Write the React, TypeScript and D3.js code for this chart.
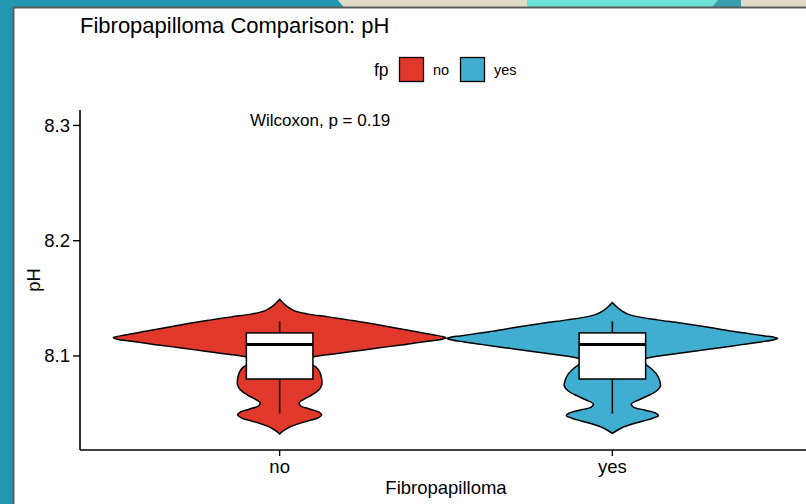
import React from "react";
import * as d3 from "d3";

// Violin outlines: [pH, relative density] from top tail to bottom tail
const violinNo: [number, number][] = [
  [8.1491, 0], [8.146, 0.021], [8.1425, 0.048], [8.1391, 0.09], [8.1365, 0.165],
  [8.1339, 0.29], [8.1313, 0.41], [8.1286, 0.53], [8.126, 0.63], [8.1234, 0.73],
  [8.1217, 0.795], [8.12, 0.86], [8.1182, 0.93], [8.1169, 0.976], [8.1158, 1],
  [8.1143, 0.97], [8.113, 0.904], [8.1113, 0.813], [8.1095, 0.73], [8.1069, 0.59],
  [8.1043, 0.458], [8.1017, 0.325], [8.1, 0.229], [8.0983, 0.187], [8.0957, 0.175],
  [8.0931, 0.187], [8.0905, 0.217], [8.0861, 0.241], [8.08, 0.253], [8.0748, 0.253],
  [8.0705, 0.235], [8.0661, 0.193], [8.0627, 0.15], [8.0592, 0.117], [8.0566, 0.127],
  [8.054, 0.18], [8.0514, 0.235], [8.0488, 0.253], [8.0462, 0.229], [8.0436, 0.169],
  [8.0409, 0.108], [8.0383, 0.06], [8.0353, 0.024], [8.0323, 0],
];

const violinYes: [number, number][] = [
  [8.1463, 0], [8.1434, 0.021], [8.1399, 0.048], [8.1365, 0.09], [8.1339, 0.157],
  [8.1313, 0.271], [8.1286, 0.41], [8.126, 0.53], [8.1234, 0.639], [8.1208, 0.747],
  [8.1191, 0.831], [8.1174, 0.916], [8.1161, 0.976], [8.1152, 0.994], [8.1139, 0.964],
  [8.1122, 0.892], [8.1104, 0.807], [8.1087, 0.723], [8.1061, 0.59], [8.1035, 0.458],
  [8.1009, 0.325], [8.0991, 0.241], [8.0974, 0.193], [8.0948, 0.187], [8.0922, 0.205],
  [8.0896, 0.229], [8.0844, 0.265], [8.0792, 0.283], [8.0739, 0.289], [8.0696, 0.265],
  [8.0653, 0.211], [8.0618, 0.157], [8.0583, 0.114], [8.0557, 0.127], [8.0531, 0.193],
  [8.0505, 0.259], [8.0483, 0.277], [8.0462, 0.247], [8.0436, 0.187], [8.0409, 0.12],
  [8.0383, 0.066], [8.0353, 0.027], [8.0329, 0],
];

const categories = ["no", "yes"];
const fillColors = ["#E0382B", "#40AED0"];
// Box statistics: [lower whisker, Q1, median, Q3, upper whisker]
const boxNo = [8.05, 8.08, 8.11, 8.12, 8.13];
const boxYes = [8.05, 8.08, 8.11, 8.12, 8.13];
const yTicks = [8.1, 8.2, 8.3];
const pLabel = "Wilcoxon, p = 0.19";
const pLabelY = 8.3;

const W = 806;
const H = 504;
const FONT = "'Liberation Sans', Arial, Helvetica, sans-serif";

export default function App() {
  const left = 80;
  const right = 812;
  const top = 110;
  const bottom = 450;

  const x = d3.scalePoint<string>().domain(categories).range([left, right]).padding(0.6);
  const y = d3.scaleLinear().domain([8.0184, 8.3134]).range([bottom, top]);
  const step = x.step();
  const halfMax = step * 0.5;
  const boxW = step * 0.2;

  const groups = [
    { key: "no", violin: violinNo, box: boxNo, color: fillColors[0] },
    { key: "yes", violin: violinYes, box: boxYes, color: fillColors[1] },
  ];

  return (
    <svg
      width={W}
      height={H}
      style={{ position: "absolute", left: 0, top: 0, background: "#fff" }}
      fontFamily={FONT}
    >
      {/* frame decoration */}
      <rect x={0} y={0} width={W} height={H} fill="#ffffff" />
      <rect x={0} y={0} width={13} height={H} fill="#2196AF" />
      <polygon points="0,0 338,0 344,7 0,7" fill="#2196AF" />
      <polygon points="338,0 718,0 712,7 344,7" fill="#E1DAC6" />
      <polygon points="527,0 718,0 712,7 527,7" fill="#6EE3D8" />
      <polygon points="718,0 741,0 741,7 712,7" fill="#3A9EAE" />
      <rect x={741} y={0} width={W - 741} height={7} fill="#E1DAC6" />
      <line x1={13.5} y1={7} x2={13.5} y2={H} stroke="#5a5a5a" strokeWidth={2} />
      <line x1={13} y1={7.5} x2={W} y2={7.5} stroke="#5a5a5a" strokeWidth={2} />

      {/* title */}
      <text x={80} y={33} fontSize={22} fill="#000">
        Fibropapilloma Comparison: pH
      </text>

      {/* legend */}
      <g>
        <text x={374} y={76} fontSize={17.5} fill="#000">fp</text>
        <rect x={399.5} y={57.5} width={24} height={24} fill={fillColors[0]} stroke="#000" strokeWidth={1.3} />
        <text x={433} y={75} fontSize={14.5} fill="#000">no</text>
        <rect x={460.5} y={57.5} width={24} height={24} fill={fillColors[1]} stroke="#000" strokeWidth={1.3} />
        <text x={494} y={75} fontSize={14.5} fill="#000">yes</text>
      </g>

      {/* violins and boxes */}
      {groups.map((g) => {
        const cx = x(g.key) as number;
        const area = d3
          .area<[number, number]>()
          .y((d) => y(d[0]))
          .x0((d) => cx - d[1] * halfMax)
          .x1((d) => cx + d[1] * halfMax)
          .curve(d3.curveCatmullRom.alpha(0.5));
        const [lo, q1, med, q3, hi] = g.box;
        return (
          <g key={g.key}>
            <path d={area(g.violin) || ""} fill={g.color} stroke="#000" strokeWidth={1.5} />
            <line x1={cx} x2={cx} y1={y(hi)} y2={y(q3)} stroke="#000" strokeWidth={1.5} />
            <line x1={cx} x2={cx} y1={y(q1)} y2={y(lo)} stroke="#000" strokeWidth={1.5} />
            <rect
              x={cx - boxW / 2}
              y={y(q3)}
              width={boxW}
              height={y(q1) - y(q3)}
              fill="#fff"
              stroke="#000"
              strokeWidth={1.5}
            />
            <line x1={cx - boxW / 2} x2={cx + boxW / 2} y1={y(med)} y2={y(med)} stroke="#000" strokeWidth={3} />
          </g>
        );
      })}

      {/* significance label */}
      <text x={250} y={y(pLabelY) + 1} fontSize={17} fill="#000">
        {pLabel}
      </text>

      {/* y axis */}
      <line x1={left} x2={left} y1={top} y2={bottom} stroke="#000" strokeWidth={1.6} />
      {yTicks.map((t) => (
        <g key={t}>
          <line x1={left - 7} x2={left} y1={y(t)} y2={y(t)} stroke="#000" strokeWidth={1.4} />
          <text x={left - 10} y={y(t)} dy="0.35em" textAnchor="end" fontSize={18.5} fill="#000">
            {t.toFixed(1)}
          </text>
        </g>
      ))}
      <text
        transform={`translate(${34},${(top + bottom) / 2}) rotate(-90)`}
        textAnchor="middle"
        dy="0.35em"
        fontSize={18.5}
        fill="#000"
      >
        pH
      </text>

      {/* x axis */}
      <line x1={left} x2={right} y1={bottom} y2={bottom} stroke="#000" strokeWidth={1.6} />
      {categories.map((c) => (
        <g key={c}>
          <line x1={x(c)} x2={x(c)} y1={bottom} y2={bottom + 6} stroke="#000" strokeWidth={1.4} />
          <text x={x(c)} y={bottom + 23} textAnchor="middle" fontSize={18.5} fill="#000">
            {c}
          </text>
        </g>
      ))}
      <text x={(left + right) / 2} y={bottom + 44} textAnchor="middle" fontSize={18.5} fill="#000">
        Fibropapilloma
      </text>
    </svg>
  );
}
